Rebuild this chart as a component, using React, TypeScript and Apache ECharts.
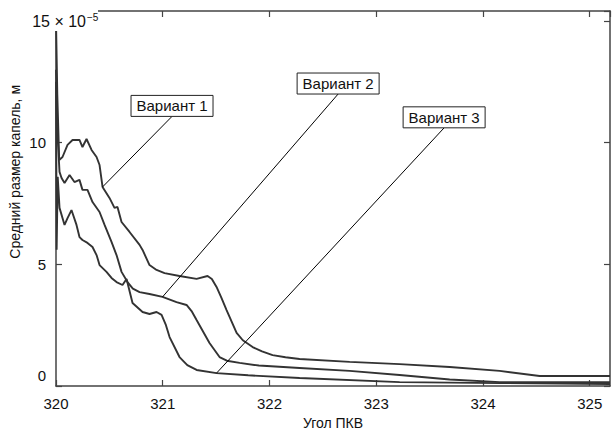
import { useEffect, useRef } from "react";
import * as echarts from "echarts";

// Crank angle (deg) and mean droplet size (×10^-5 m)
const angle1 = [320.0, 320.012, 320.03, 320.061, 320.108, 320.155, 320.22, 320.248, 320.286, 320.333, 320.38, 320.408, 320.436, 320.501, 320.548, 320.576, 320.614, 320.689, 320.783, 320.811, 320.876, 320.942, 321.017, 321.157, 321.317, 321.42, 321.46, 321.504, 321.55, 321.598, 321.692, 321.75, 321.842, 321.93, 322.029, 322.15, 322.282, 322.751, 323.219, 323.688, 324.156, 324.531, 325.19];
const size1 = [15.0, 12.0, 9.29, 9.41, 9.91, 10.11, 10.11, 9.82, 10.15, 9.7, 9.41, 9.08, 8.18, 7.73, 7.32, 7.36, 6.74, 6.33, 5.8, 5.59, 4.97, 4.77, 4.64, 4.52, 4.4, 4.52, 4.4, 4.07, 3.62, 3.12, 2.18, 1.88, 1.6, 1.42, 1.27, 1.18, 1.11, 0.99, 0.9, 0.78, 0.62, 0.41, 0.41];

const angle2 = [320.0, 320.012, 320.033, 320.052, 320.08, 320.127, 320.173, 320.22, 320.248, 320.295, 320.342, 320.408, 320.455, 320.52, 320.567, 320.614, 320.67, 320.72, 320.783, 320.876, 320.998, 321.129, 321.223, 321.27, 321.317, 321.438, 321.532, 321.6, 321.72, 321.9, 322.282, 322.751, 323.219, 323.688, 324.156, 325.19];
const size2 = [13.0, 10.5, 8.8, 8.55, 8.34, 8.67, 8.38, 8.47, 8.06, 8.06, 7.56, 7.15, 6.62, 5.92, 5.38, 4.69, 4.27, 4.0, 3.86, 3.78, 3.66, 3.45, 3.33, 3.08, 2.71, 1.77, 1.19, 1.04, 0.95, 0.84, 0.74, 0.62, 0.45, 0.27, 0.16, 0.16];

const angle3 = [320.0, 320.006, 320.016, 320.033, 320.08, 320.108, 320.145, 320.192, 320.22, 320.248, 320.295, 320.342, 320.38, 320.408, 320.473, 320.52, 320.567, 320.623, 320.661, 320.717, 320.811, 320.876, 320.942, 320.989, 321.03, 321.064, 321.157, 321.23, 321.317, 321.504, 321.8, 322.282, 323.219, 324.156, 325.19];
const size3 = [12.5, 5.6, 8.6, 7.32, 6.62, 6.9, 7.23, 6.62, 6.12, 6.0, 5.88, 5.71, 5.38, 4.97, 4.69, 4.44, 4.27, 4.15, 4.4, 3.41, 3.04, 2.96, 3.04, 2.92, 2.5, 2.01, 1.19, 0.86, 0.66, 0.53, 0.44, 0.33, 0.16, 0.12, 0.08];

const variantNames = ["Вариант 1", "Вариант 2", "Вариант 3"];
// label box centres (data coords) and leader anchor points on the curves
const boxAngle = [321.087, 322.643, 323.636];
const boxSize = [11.51, 12.43, 11.04];
const anchorAngle = [320.436, 320.998, 321.504];
const anchorSize = [8.18, 3.66, 0.53];

const xTicks = { min: 320, max: 325.19, interval: 1 };
const yTicks = { min: 0, max: 15.41, interval: 5 };
const yTitle = "Средний размер капель, м";
const yTitleCenter = 8.8; // data units, where the y title is centred

const FONT = "'Liberation Sans', Arial, sans-serif";
const CURVE = "#333333";
const AXIS = "#444444";

const zip = (a: number[], b: number[]) => a.map((v, i) => [v, b[i]]);

export default function App() {
  const ref = useRef<HTMLDivElement>(null);
  useEffect(() => {
    const chart = echarts.init(ref.current!, null, { renderer: "svg" });
    const axisCommon = {
      axisLine: { show: true, onZero: false, lineStyle: { color: AXIS, width: 1.5 } },
      axisTick: { show: true, inside: true, length: 6, lineStyle: { color: AXIS, width: 1.2 } },
      splitLine: { show: false },
    };
    chart.setOption({
      animation: false,
      backgroundColor: "#ffffff",
      grid: { left: 56, right: 2, top: 11, bottom: 49, containLabel: false },
      xAxis: [
        {
          type: "value",
          position: "bottom",
          ...xTicks,
          ...axisCommon,
          name: "Угол ПКВ",
          nameLocation: "middle",
          nameGap: 30,
          nameTextStyle: { color: "#111", fontSize: 14, fontFamily: FONT },
          axisLabel: {
            color: "#111",
            fontSize: 15,
            fontFamily: FONT,
            margin: 10,
            showMaxLabel: false,
            formatter: (v: number) => (Number.isInteger(v) ? String(v) : ""),
          },
        },
        {
          type: "value",
          position: "top",
          ...xTicks,
          ...axisCommon,
          axisLabel: { show: false },
        },
      ],
      yAxis: [
        {
          type: "value",
          position: "left",
          ...yTicks,
          ...axisCommon,
          axisLabel: {
            color: "#111",
            fontSize: 15,
            fontFamily: FONT,
            margin: 10,
            showMaxLabel: false,
            formatter: (v: number) => {
              if (v === 0) return "{z|0}";
              if (v % 5 !== 0 || v === 15) return "";
              return String(v);
            },
            rich: { z: { fontSize: 15, fontFamily: FONT, color: "#111", padding: [0, 0, 22, 0] } },
          },
        },
        {
          type: "value",
          position: "right",
          ...yTicks,
          ...axisCommon,
          axisLabel: { show: false },
        },
      ],
      series: [
        { type: "line", name: variantNames[0], data: zip(angle1, size1), showSymbol: false, lineStyle: { color: CURVE, width: 1.9 }, xAxisIndex: 0, yAxisIndex: 0 },
        { type: "line", name: variantNames[1], data: zip(angle2, size2), showSymbol: false, lineStyle: { color: CURVE, width: 1.9 }, xAxisIndex: 0, yAxisIndex: 0 },
        { type: "line", name: variantNames[2], data: zip(angle3, size3), showSymbol: false, lineStyle: { color: CURVE, width: 1.9 }, xAxisIndex: 0, yAxisIndex: 0 },
      ],
    });

    const BOX_W = 82;
    const BOX_H = 21;
    const graphics: any[] = [];
    variantNames.forEach((name, i) => {
      const [bx, by] = chart.convertToPixel({ gridIndex: 0 }, [boxAngle[i], boxSize[i]]) as number[];
      const [ax, ay] = chart.convertToPixel({ gridIndex: 0 }, [anchorAngle[i], anchorSize[i]]) as number[];
      graphics.push({
        type: "line",
        shape: { x1: bx, y1: by + BOX_H / 2, x2: ax, y2: ay },
        style: { stroke: "#000", lineWidth: 1 },
        z: 100,
      });
      graphics.push({
        type: "rect",
        shape: { x: bx - BOX_W / 2, y: by - BOX_H / 2, width: BOX_W, height: BOX_H },
        style: { fill: "#fff", stroke: "#222", lineWidth: 1 },
        z: 101,
      });
      graphics.push({
        type: "text",
        x: bx,
        y: by,
        style: { text: name, fill: "#111", fontSize: 15, fontFamily: FONT, align: "center", verticalAlign: "middle" },
        z: 102,
      });
    });
    // y axis title
    const [, yt] = chart.convertToPixel({ gridIndex: 0 }, [320, yTitleCenter]) as number[];
    graphics.push({
      type: "text",
      x: 15,
      y: yt,
      rotation: Math.PI / 2,
      style: { text: yTitle, fill: "#111", fontSize: 14, fontFamily: FONT, align: "center", verticalAlign: "middle" },
      z: 102,
    });
    // "15 × 10^-5" top tick label with white background over the corner
    const [, y15] = chart.convertToPixel({ gridIndex: 0 }, [320, 15]) as number[];
    graphics.push({ type: "rect", shape: { x: 26, y: 0, width: 72, height: y15 + 10 }, style: { fill: "#fff" }, z: 100 });
    graphics.push({
      type: "text",
      x: 86,
      y: y15 + 1,
      style: { text: "15 × 10", fill: "#111", fontSize: 16, fontFamily: FONT, align: "right", verticalAlign: "middle" },
      z: 102,
    });
    graphics.push({
      type: "text",
      x: 87,
      y: y15 - 3,
      style: { text: "−5", fill: "#111", fontSize: 10, fontFamily: FONT, align: "left", verticalAlign: "middle" },
      z: 102,
    });
    chart.setOption({ graphic: graphics });

    return () => chart.dispose();
  }, []);
  return <div ref={ref} style={{ position: "fixed", left: 0, top: 0, width: 612, height: 435 }} />;
}
